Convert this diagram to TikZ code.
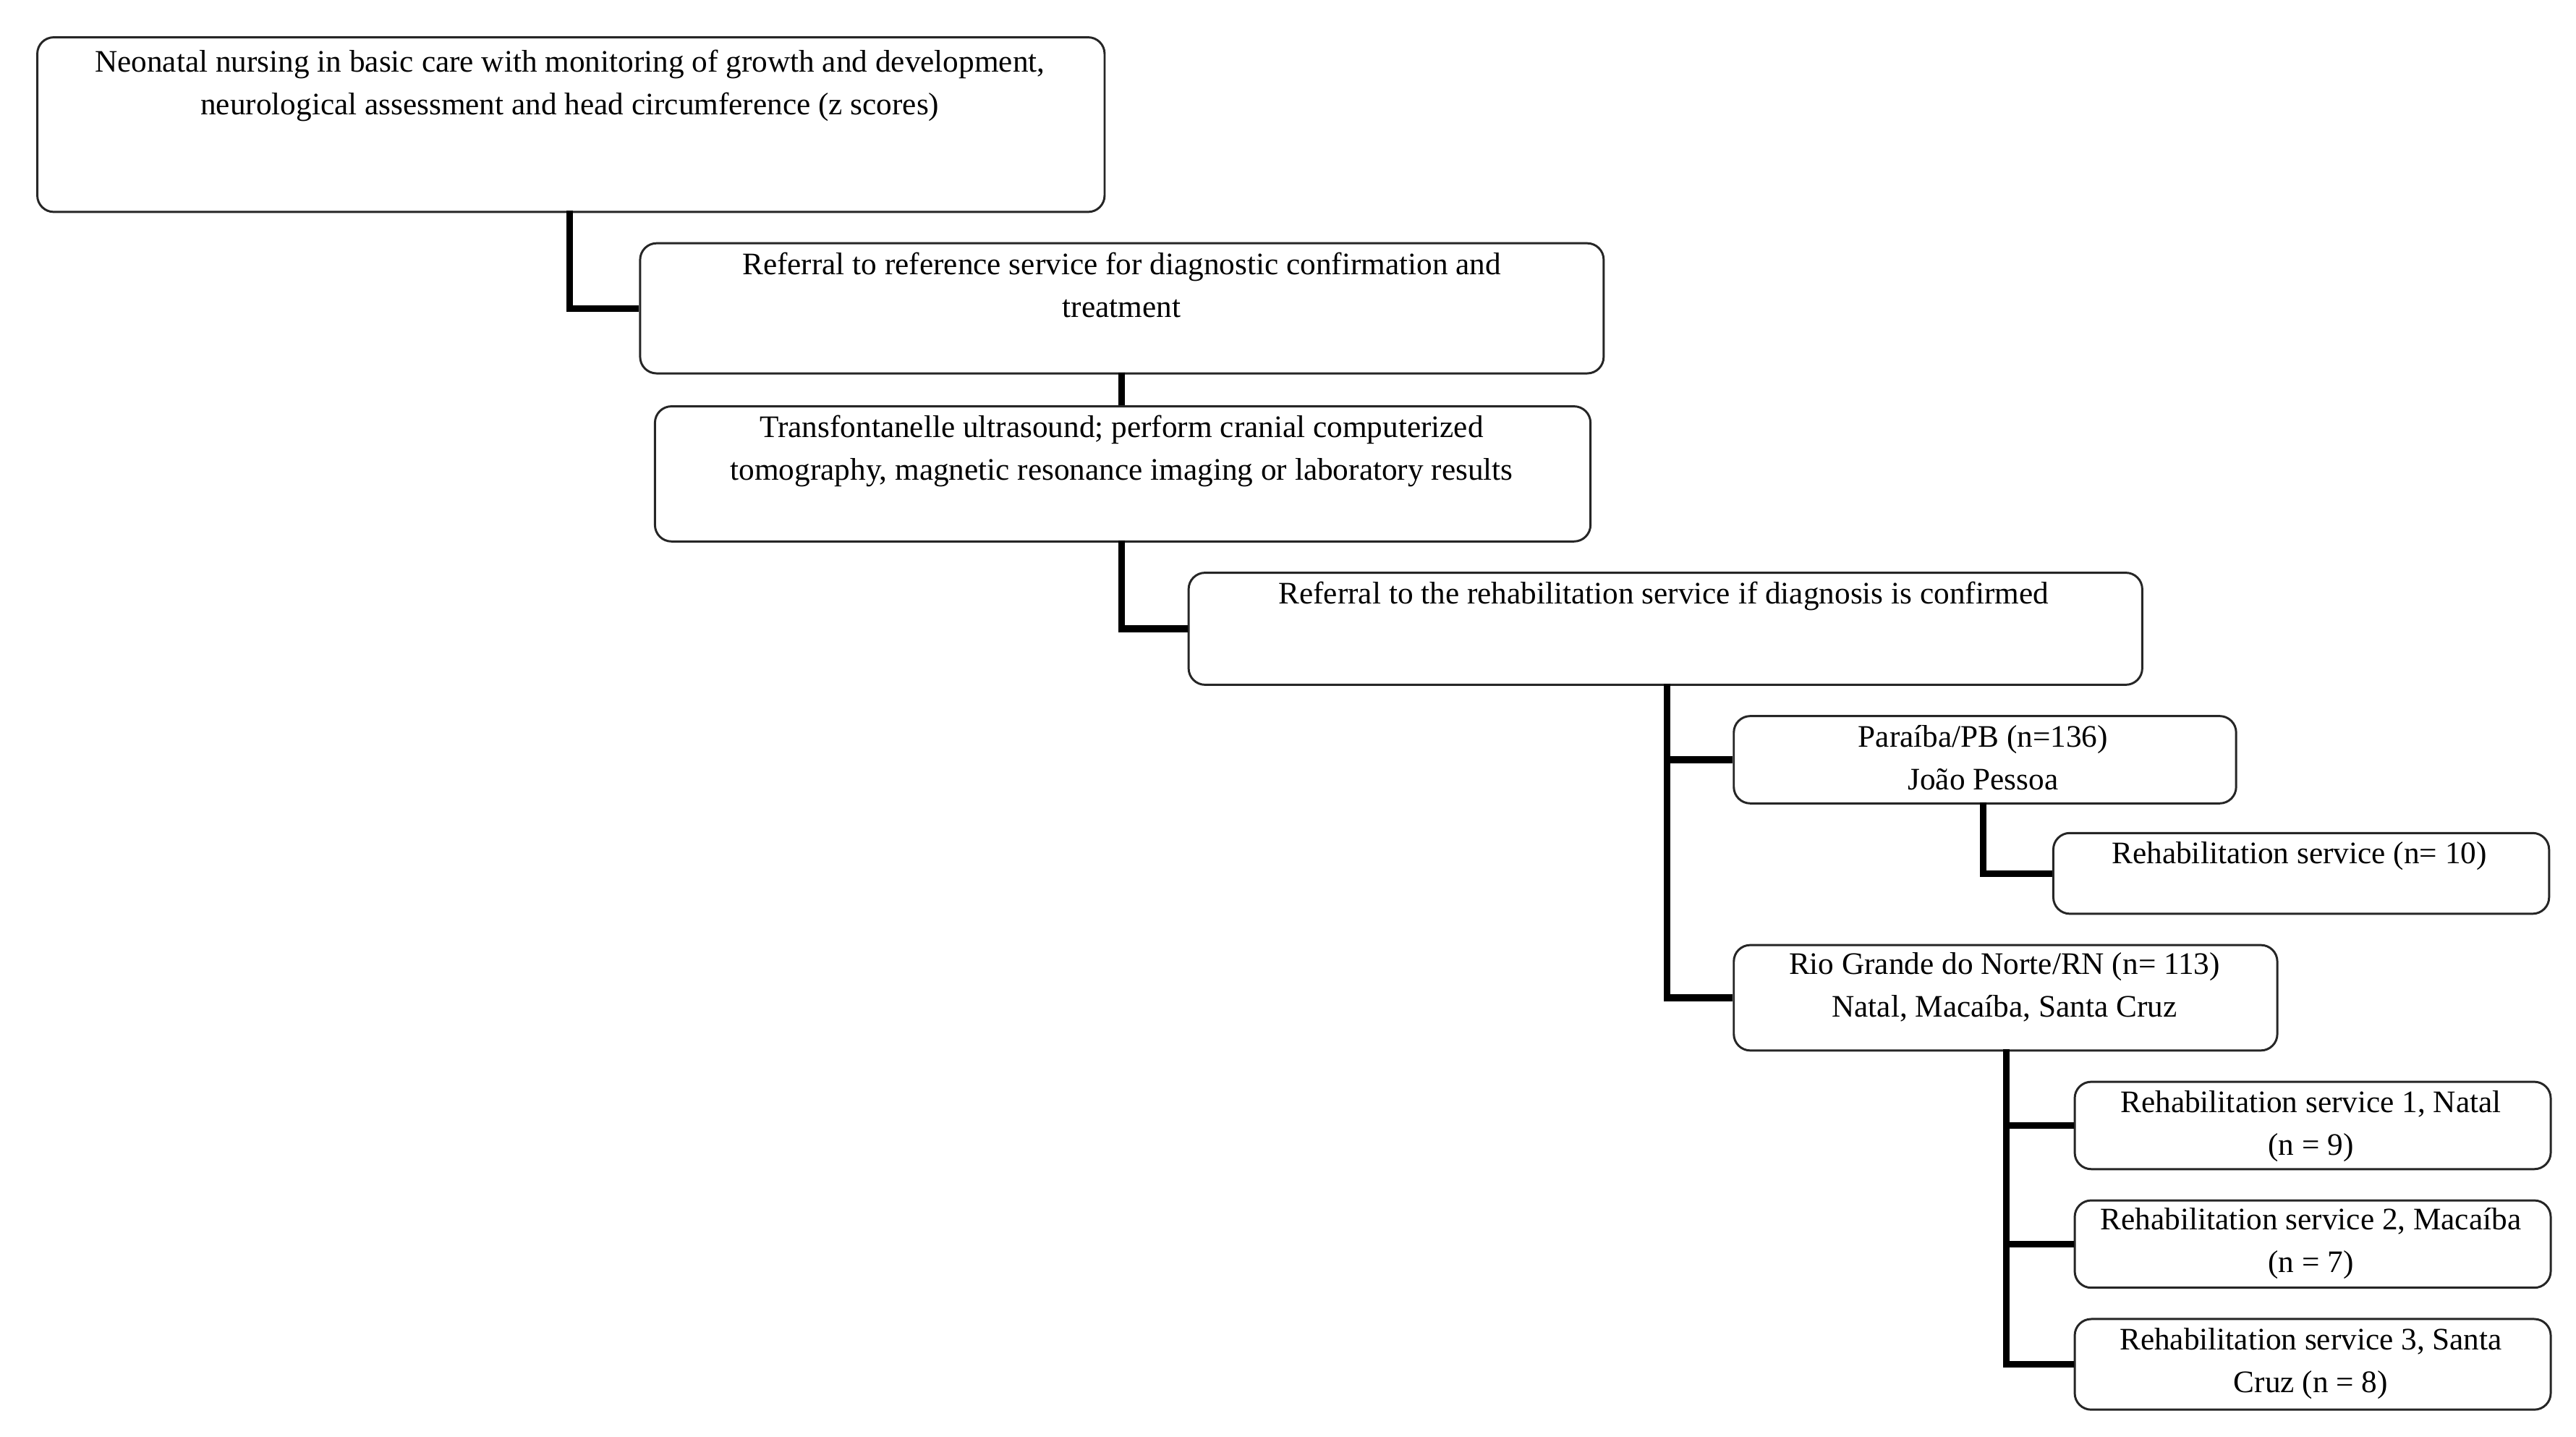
\documentclass[tikz,border=0pt]{standalone}
\usepackage{fontspec}
\setmainfont{Liberation Serif}
\begin{document}
\begin{tikzpicture}[x=1pt,y=-1pt,
  box/.style={draw=black!85,line width=1.3pt,rounded corners=10pt,inner sep=0pt,anchor=north west},
  txt/.style={anchor=north,align=center,inner sep=0pt,font=\fontsize{19}{26}\selectfont},
  con/.style={line width=4pt}]
\useasboundingbox (0,0) rectangle (1564,872);
\node[box,minimum width=648,minimum height=106] (b1) at (22,22) {};
\node[txt] (t1) at (346,30) {Neonatal nursing in basic care with monitoring of growth and development,\\neurological assessment and head circumference (z scores)};
\node[box,minimum width=585,minimum height=79] (b2) at (388,147) {};
\node[txt] (t2) at (681,153) {Referral to reference service for diagnostic confirmation and\\treatment};
\node[box,minimum width=568,minimum height=82] (b3) at (397,246) {};
\node[txt] (t3) at (681,252) {Transfontanelle ultrasound; perform cranial computerized\\tomography, magnetic resonance imaging or laboratory results};
\node[box,minimum width=579,minimum height=68] (b4) at (721,347) {};
\node[txt] (t4) at (1010,353) {Referral to the rehabilitation service if diagnosis is confirmed};
\node[box,minimum width=305,minimum height=53] (b5) at (1052,434) {};
\node[txt] (t5) at (1204,440) {Paraíba/PB (n=136)\\João Pessoa};
\node[box,minimum width=301,minimum height=49] (b6) at (1246,505) {};
\node[txt] (t6) at (1396,511) {Rehabilitation service (n= 10)};
\node[box,minimum width=330,minimum height=64] (b7) at (1052,573) {};
\node[txt] (t7) at (1217,578) {Rio Grande do Norte/RN (n= 113)\\Natal, Macaíba, Santa Cruz};
\node[box,minimum width=289,minimum height=53] (b8) at (1259,656) {};
\node[txt] (t8) at (1403,662) {Rehabilitation service 1, Natal\\(n = 9)};
\node[box,minimum width=289,minimum height=53] (b9) at (1259,728) {};
\node[txt] (t9) at (1403,733) {Rehabilitation service 2, Macaíba\\(n = 7)};
\node[box,minimum width=289,minimum height=55] (b10) at (1259,800) {};
\node[txt] (t10) at (1403,806) {Rehabilitation service 3, Santa\\Cruz (n = 8)};
\draw[con] (346,128) |- (b2.west);
\draw[con] (681,226) -- (681,246);
\draw[con] (681,328) |- (b4.west);
\draw[con] (1012,415) |- (b5.west);
\draw[con] (1012,415) |- (b7.west);
\draw[con] (1204,487) |- (b6.west);
\draw[con] (1218,637) |- (b8.west);
\draw[con] (1218,637) |- (b9.west);
\draw[con] (1218,637) |- (b10.west);
\end{tikzpicture}
\end{document}
